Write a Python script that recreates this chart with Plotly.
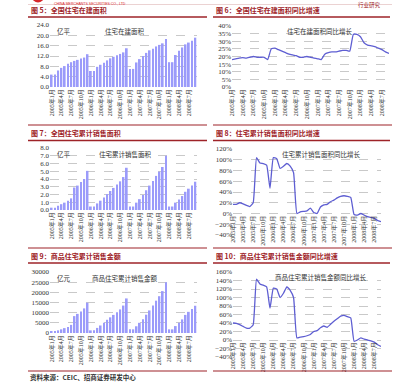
import plotly.graph_objects as go

W, H = 400, 386

# ---------------- data ----------------
months = [f"{y}年{m}月" for y in range(2005, 2009) for m in range(1, 13)][:45]
tick_labels = months[::3]

# 全国住宅在建面积 (亿平)
constr_area = [4.8, 4.8, 6.4, 7.4, 8.1, 9.0, 9.6, 10.1, 10.5, 11.0, 11.4, 12.7,
               6.2, 6.2, 7.8, 8.6, 9.4, 10.3, 11.1, 11.7, 12.3, 12.8, 13.4, 15.0,
               7.0, 7.0, 9.5, 10.8, 12.0, 13.2, 14.2, 14.8, 15.7, 16.3, 16.9, 18.6,
               9.6, 9.6, 12.4, 14.0, 15.3, 16.5, 17.2, 17.9, 19.1]

# 住宅在建面积同比增长 (%)
constr_yoy = [18.0, 18.5, 19.0, 19.3, 19.0, 19.5, 20.0, 19.5, 19.5, 19.5, 18.0, 25.0,
              25.5, 24.5, 23.5, 22.5, 21.5, 21.0, 20.5, 19.5, 19.5, 20.0, 19.5, 19.0,
              18.5, 18.0, 21.5, 22.5, 23.0, 23.0, 23.5, 24.0, 24.0, 23.5, 34.5, 34.5,
              33.0, 29.0, 27.5, 27.0, 26.5, 25.5, 24.5, 23.0, 22.0]

# 住宅累计销售面积 (亿平)
sales_area = [0.3, 0.3, 0.55, 0.75, 0.95, 1.2, 1.5, 2.9, 3.15, 3.6, 4.0, 5.05,
              0.45, 0.45, 0.85, 1.2, 1.6, 2.05, 2.45, 2.85, 3.3, 3.7, 4.25, 5.45,
              0.45, 0.45, 0.95, 1.4, 1.95, 2.55, 3.15, 3.75, 4.4, 4.95, 5.55, 7.0,
              0.45, 0.45, 0.95, 1.35, 1.8, 2.35, 2.75, 3.15, 3.65]

# 住宅累计销售面积同比增长 (%)
sales_area_yoy = [17, 17, 20, 18, 15, 13, 20, 104, 94, 93, 90, 47,
                  104, 102, 84, 88, 93, 88, 76, 0, 3, 4, 5, 10,
                  2, 0, 12, 16, 17, 22, 25, 29, 32, 33, 32, 30,
                  -2, -3, 0, -3, -6, -7, -9, -13, -15]

# 商品住宅累计销售金额 (亿元)
sales_value = [800, 800, 1300, 1800, 2400, 3000, 4000, 8300, 9400, 10600, 12100, 14900,
               1300, 1300, 2500, 3700, 5000, 6500, 7700, 8900, 10200, 11600, 13500, 17000,
               1800, 1800, 3300, 5000, 6800, 9000, 11100, 13500, 15900, 18100, 20600, 25000,
               1800, 1800, 3400, 5000, 6700, 8900, 10400, 11800, 13400]

# 商品住宅累计销售金额同比增长 (%)
sales_value_yoy = [40, 39, 36, 32, 28, 28, 36, 143, 132, 129, 125, 75,
                   122, 120, 100, 110, 125, 117, 100, 5, 7, 8, 10, 13,
                   20, 22, 29, 33, 30, 37, 44, 50, 56, 58, 55, 52,
                   -3, 0, 5, 2, 0, -2, -5, -11, -15]

titles = ["图 5：全国住宅在建面积", "图 6：全国住宅在建面积同比增速",
          "图 7：全国住宅累计销售面积", "图 8：住宅累计销售面积同比增速",
          "图 9：商品住宅累计销售金额", "图 10：商品住宅累计销售金额同比增速"]
series_names = ["住宅在建面积", "住宅在建面积同比增长", "住宅累计销售面积",
                "住宅累计销售面积同比增长", "商品住宅累计销售金额", "商品住宅累计销售金额同比增长"]
units = ["亿平", None, "亿平", None, "亿元", None]
source_text = "资料来源：CEIC、招商证券研发中心"

# ---------------- layout helpers ----------------
def fx(x):
    return x / W

def fy(y):
    return 1 - y / H

BAR = "#9B9BFA"
LINE = "#5E5ED2"
RED = "#9E2328"
GRID = "#C9C9C9"
NUM_FONT = "Liberation Serif, Noto Sans CJK SC"
CJK = "Noto Sans CJK SC"

# plot areas in pixels: (x0, x1, ytop, ybottom)
panels = [
    dict(box=(50, 197, 25, 87), rng=[0, 24], dtick=4, fmt=".1f", suf="", kind="bar", data=constr_area, rule=17),
    dict(box=(232, 389, 26, 87), rng=[0, 40], dtick=5, fmt="d", suf="%", kind="line", data=constr_yoy, rule=17),
    dict(box=(50, 197, 148, 210), rng=[0, 8], dtick=1, fmt=".1f", suf="", kind="bar", data=sales_area, rule=140.5),
    dict(box=(233, 381, 149, 235), rng=[-40, 120], dtick=20, fmt="d", suf="%", kind="line", data=sales_area_yoy, rule=140.5),
    dict(box=(50, 197, 272, 333), rng=[0, 30000], dtick=5000, fmt="d", suf="", kind="bar", data=sales_value, rule=263),
    dict(box=(233, 381, 272, 357), rng=[-40, 160], dtick=20, fmt="d", suf="%", kind="line", data=sales_value_yoy, rule=263),
]

fig = go.Figure()
layout_axes = {}
annotations = []
shapes = []

for i, p in enumerate(panels):
    n = i + 1
    xa = "x" if n == 1 else f"x{n}"
    ya = "y" if n == 1 else f"y{n}"
    x0, x1, yt, yb = p["box"]
    lo, hi = p["rng"]
    # the category axis crosses the value axis at 0
    zero_px = yb - (0 - lo) / (hi - lo) * (yb - yt)
    if p["kind"] == "bar":
        fig.add_trace(go.Bar(x=months, y=p["data"], marker_color=BAR, marker_line_width=0,
                             xaxis=xa, yaxis=ya, showlegend=False))
        xr = [-0.5, 44.5]
    else:
        fig.add_trace(go.Scatter(x=months, y=p["data"], mode="lines",
                                 line=dict(color=LINE, width=1.3, shape="spline", smoothing=0.4),
                                 xaxis=xa, yaxis=ya, showlegend=False))
        xr = [0, 44]
    layout_axes["xaxis" if n == 1 else f"xaxis{n}"] = dict(
        domain=[fx(x0), fx(x1)], anchor="free", position=fy(zero_px), type="category", range=xr,
        tickmode="array", tickvals=tick_labels, ticktext=tick_labels, tickangle=-90,
        tickfont=dict(family=NUM_FONT, size=6, color="#333333"), automargin=False,
        showgrid=False, showline=False, zeroline=False, ticks="", fixedrange=True)
    layout_axes["yaxis" if n == 1 else f"yaxis{n}"] = dict(
        domain=[fy(yb), fy(yt)], anchor=xa, range=p["rng"], dtick=p["dtick"],
        tickformat=p["fmt"], ticksuffix=p["suf"], automargin=False,
        tickfont=dict(family=NUM_FONT, size=7, color="#333333"),
        showgrid=True, gridcolor=GRID, gridwidth=0.6, griddash="dash",
        zeroline=False, showline=False, ticks="", fixedrange=True)

    # panel title and rules
    col_left = x0 < 200
    lx0, lx1 = (28, 207) if col_left else (213, 390)
    rule = p["rule"]
    annotations.append(dict(text=f"<b>{titles[i]}</b>", x=fx(lx0 + 1), y=fy(rule - 0.5),
                            xref="paper", yref="paper", xanchor="left", yanchor="bottom",
                            showarrow=False, font=dict(family=CJK, size=7, color=RED)))
    shapes.append(dict(type="line", xref="paper", yref="paper", x0=fx(lx0), x1=fx(lx1),
                       y0=fy(rule), y1=fy(rule), line=dict(color=RED, width=1.6)))

    # series label inside chart
    if units[i]:
        annotations.append(dict(text=units[i], x=fx(x0 + 5), y=fy(yt + 6), xref="paper", yref="paper",
                                xanchor="left", yanchor="middle", showarrow=False,
                                font=dict(family=CJK, size=6.5, color="#333333")))
        annotations.append(dict(text=series_names[i], x=fx(x0 + 75), y=fy(yt + 6), xref="paper",
                                yref="paper", xanchor="center", yanchor="middle", showarrow=False,
                                font=dict(family=CJK, size=6.5, color="#333333")))
    else:
        annotations.append(dict(text=series_names[i], x=fx(x0 + 88), y=fy(yt + 5), xref="paper",
                                yref="paper", xanchor="center", yanchor="middle", showarrow=False,
                                font=dict(family=CJK, size=6.5, color="#333333")))

# bottom rules of the panel rows
for yb in (125, 248, 371):
    shapes.append(dict(type="line", xref="paper", yref="paper", x0=fx(28), x1=fx(207),
                       y0=fy(yb), y1=fy(yb), line=dict(color=RED, width=1.2)))
    shapes.append(dict(type="line", xref="paper", yref="paper", x0=fx(213), x1=fx(392),
                       y0=fy(yb), y1=fy(yb), line=dict(color=RED, width=1.2)))

# page header (logo cut off at the top)
shapes.append(dict(type="circle", xref="paper", yref="paper", x0=fx(32), x1=fx(44),
                   y0=fy(2.5), y1=fy(-9), fillcolor="#D7262B", line_width=0))
shapes.append(dict(type="line", xref="paper", yref="paper", x0=fx(28), x1=fx(392),
                   y0=fy(4.5), y1=fy(4.5), line=dict(color="#E6C6C6", width=0.8)))
annotations.append(dict(text="CHINA MERCHANTS SECURITIES CO., LTD", x=fx(52), y=fy(0), xref="paper",
                        yref="paper", xanchor="left", yanchor="top", showarrow=False,
                        font=dict(family="Liberation Sans", size=3.5, color="#D7262B")))
annotations.append(dict(text="行业研究", x=fx(356), y=fy(-0.5), xref="paper", yref="paper",
                        xanchor="left", yanchor="top", showarrow=False,
                        font=dict(family=CJK, size=5.5, color="#9E2328")))

# source
annotations.append(dict(text=f"<b>{source_text}</b>", x=fx(28), y=fy(377), xref="paper", yref="paper",
                        xanchor="left", yanchor="middle", showarrow=False,
                        font=dict(family=CJK, size=6.5, color="#333333")))

fig.update_layout(width=W, height=H, margin=dict(l=0, r=0, t=0, b=0, autoexpand=False),
                  paper_bgcolor="white", plot_bgcolor="white", bargap=0.45,
                  annotations=annotations, shapes=shapes, showlegend=False, **layout_axes)

fig.write_html("out.html", config={"displayModeBar": False})
